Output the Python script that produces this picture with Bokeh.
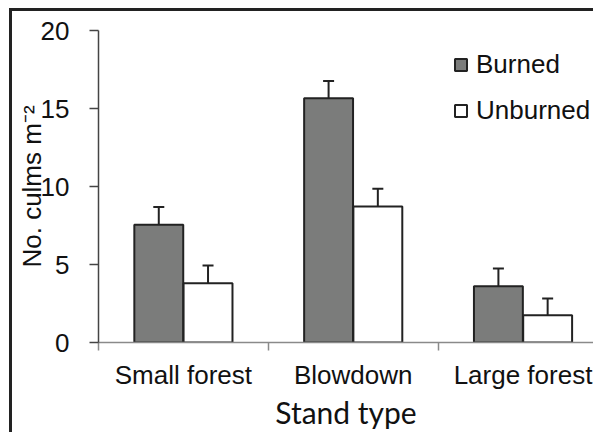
from bokeh.plotting import figure
from bokeh.models import (ColumnDataSource, Range1d, FixedTicker, Whisker, TeeHead,
                          Legend, LegendItem)
from bokeh.embed import file_html
from bokeh.resources import INLINE

# ---- data ----
categories = ["Small forest", "Blowdown", "Large forest"]
burned = [7.55, 15.65, 3.6]
burned_err = [1.13, 1.12, 1.15]
unburned = [3.8, 8.72, 1.75]
unburned_err = [1.13, 1.13, 1.07]
y_ticks = [0, 5, 10, 15, 20]

centers = [i + 0.5 for i in range(len(categories))]
offset = 0.145
bar_w = 0.288

src_b = ColumnDataSource(dict(
    x=[c - offset for c in centers], top=burned,
    upper=[v + e for v, e in zip(burned, burned_err)]))
src_u = ColumnDataSource(dict(
    x=[c + offset for c in centers], top=unburned,
    upper=[v + e for v, e in zip(unburned, unburned_err)]))

DARK = "#222222"
FONT = "Liberation Sans"

frame_css = ("linear-gradient(#222,#222) 9px 8px / 3px 100% no-repeat, "
             "linear-gradient(#222,#222) 9px 8px / 100% 3px no-repeat, white")

p = figure(width=593, height=432, output_backend="svg", toolbar_location=None,
           x_range=Range1d(0, 2.915), y_range=Range1d(0, 20),
           min_border_left=98, min_border_right=0, min_border_top=30,
           min_border_bottom=82,
           styles={"background": frame_css})
p.outline_line_color = None
p.grid.visible = False
p.background_fill_color = "white"
p.border_fill_alpha = 0

rb = p.vbar(x="x", top="top", width=bar_w, bottom=0, source=src_b,
            fill_color="#7b7c7b", line_color=DARK, line_width=2)
ru = p.vbar(x="x", top="top", width=bar_w, bottom=0, source=src_u,
            fill_color="white", line_color=DARK, line_width=2)

for s in (src_b, src_u):
    p.add_layout(Whisker(base="x", lower="top", upper="upper", source=s,
                         line_color=DARK, line_width=2, lower_head=None,
                         upper_head=TeeHead(size=11, line_color=DARK, line_width=2)))

# x axis
xa = p.xaxis[0]
xa.ticker = FixedTicker(ticks=centers, minor_ticks=[0, 1, 2])
xa.major_label_overrides = {c: n for c, n in zip(centers, categories)}
xa.major_tick_line_color = None
xa.major_tick_out = 8
xa.major_tick_in = 0
xa.minor_tick_out = 8
xa.minor_tick_in = 0
xa.minor_tick_line_color = "#8a8a8a"
xa.minor_tick_line_width = 1.5
xa.axis_line_color = "#8a8a8a"
xa.axis_line_width = 1.5
xa.major_label_text_font = FONT
xa.major_label_text_font_size = "26px"
xa.major_label_text_color = "#111111"
xa.major_label_standoff = 9
xa.axis_label = "Stand type"
xa.axis_label_text_font = "Lato"
xa.axis_label_text_font_size = "30px"
xa.axis_label_text_font_style = "normal"
xa.axis_label_text_color = "#111111"
xa.axis_label_standoff = 1

# y axis
ya = p.yaxis[0]
ya.ticker = FixedTicker(ticks=y_ticks)
ya.minor_tick_line_color = None
ya.major_tick_out = 9
ya.major_tick_in = 0
ya.major_tick_line_color = "#444444"
ya.major_tick_line_width = 1.5
ya.axis_line_color = "#444444"
ya.axis_line_width = 1.5
ya.major_label_text_font = FONT
ya.major_label_text_font_size = "26px"
ya.major_label_text_color = "#111111"
ya.major_label_standoff = 20
ya.axis_label = "No. culms m\u207b\u00b2"
ya.axis_label_text_font = FONT
ya.axis_label_text_font_size = "26px"
ya.axis_label_text_font_style = "normal"
ya.axis_label_text_color = "#111111"
ya.axis_label_standoff = -9

legend = Legend(items=[LegendItem(label="Burned", renderers=[rb]),
                       LegendItem(label="Unburned", renderers=[ru])],
                location=(355, 216), padding=0, margin=0, spacing=15,
                glyph_width=15, glyph_height=15, label_standoff=8,
                border_line_color=None, background_fill_alpha=0,
                label_text_font=FONT, label_text_font_size="26px",
                label_text_color="#111111")
p.add_layout(legend)

open("out.html", "w").write(file_html(p, INLINE))
